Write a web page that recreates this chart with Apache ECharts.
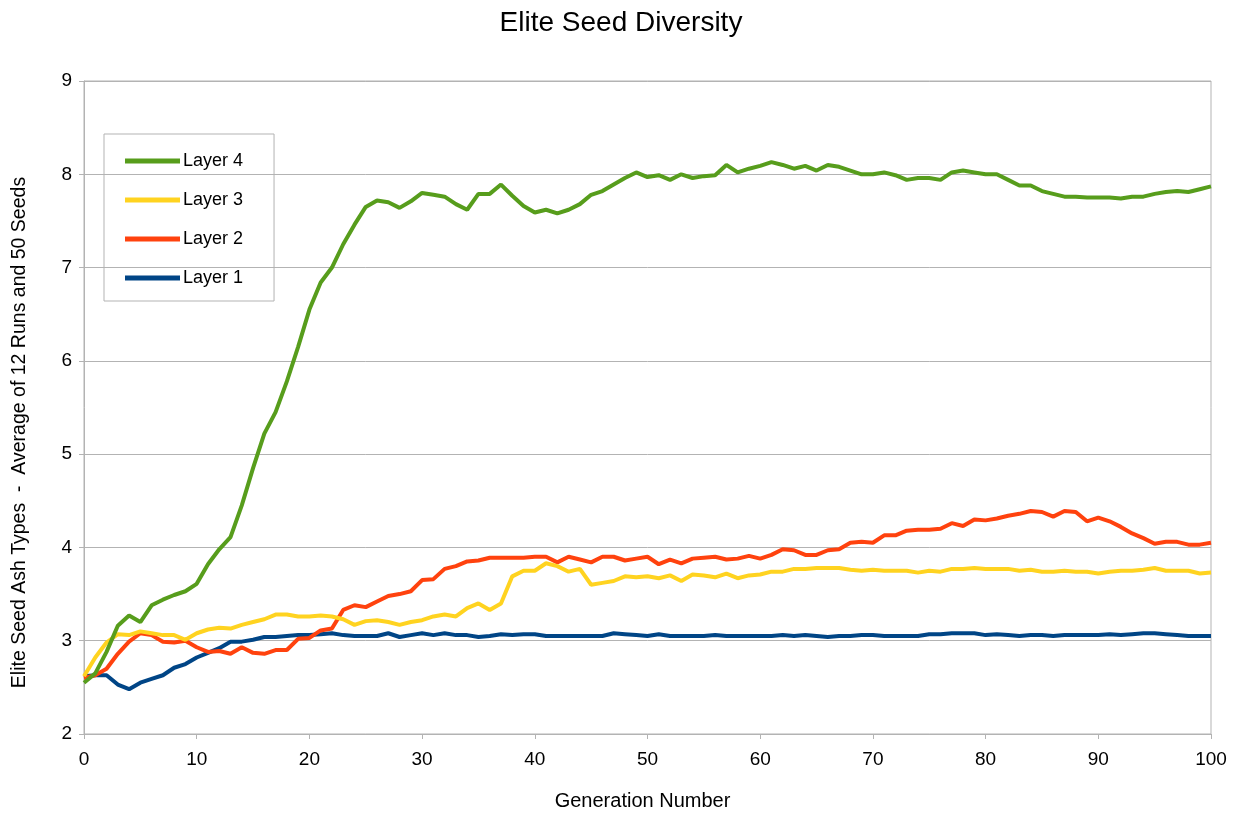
<!DOCTYPE html>
<html>
<head>
<meta charset="utf-8">
<script src="https://cdn.jsdelivr.net/npm/echarts@6/dist/echarts.min.js"></script>
<style>
  html, body { margin: 0; padding: 0; background: #fff; }
  #main { width: 1242px; height: 816px; }
</style>
</head>
<body>
<div id="main"></div>
<script>
// generations 0..100
var generations = [];
for (var g = 0; g <= 100; g++) generations.push(g);

var layer4 = [2.55, 2.65, 2.88, 3.16, 3.27, 3.2, 3.38, 3.44, 3.49, 3.53,
  3.61, 3.82, 3.98, 4.11, 4.45, 4.85, 5.22, 5.45, 5.78, 6.15,
  6.55, 6.84, 7.0, 7.25, 7.46, 7.65, 7.72, 7.7, 7.64, 7.71,
  7.8, 7.78, 7.76, 7.68, 7.62, 7.79, 7.79, 7.89, 7.77, 7.66,
  7.59, 7.62, 7.58, 7.62, 7.68, 7.78, 7.82, 7.89, 7.96, 8.02,
  7.97, 7.99, 7.94, 8.0, 7.96, 7.98, 7.99, 8.1, 8.02, 8.06,
  8.09, 8.13, 8.1, 8.06, 8.09, 8.04, 8.1, 8.08, 8.04, 8.0,
  8.0, 8.02, 7.99, 7.94, 7.96, 7.96, 7.94, 8.02, 8.04, 8.02,
  8.0, 8.0, 7.94, 7.88, 7.88, 7.82, 7.79, 7.76, 7.76, 7.75,
  7.75, 7.75, 7.74, 7.76, 7.76, 7.79, 7.81, 7.82, 7.81, 7.84,
  7.87];

var layer3 = [2.62, 2.82, 2.98, 3.07, 3.06, 3.1, 3.08, 3.06, 3.06, 3.01,
  3.08, 3.12, 3.14, 3.13, 3.17, 3.2, 3.23, 3.28, 3.28, 3.26,
  3.26, 3.27, 3.26, 3.23, 3.17, 3.21, 3.22, 3.2, 3.17, 3.2,
  3.22, 3.26, 3.28, 3.26, 3.35, 3.4, 3.33, 3.4, 3.69, 3.75,
  3.75, 3.83, 3.8, 3.74, 3.77, 3.6, 3.62, 3.64, 3.69, 3.68,
  3.69, 3.67, 3.7, 3.64, 3.71, 3.7, 3.68, 3.72, 3.67, 3.7,
  3.71, 3.74, 3.74, 3.77, 3.77, 3.78, 3.78, 3.78, 3.76, 3.75,
  3.76, 3.75, 3.75, 3.75, 3.73, 3.75, 3.74, 3.77, 3.77, 3.78,
  3.77, 3.77, 3.77, 3.75, 3.76, 3.74, 3.74, 3.75, 3.74, 3.74,
  3.72, 3.74, 3.75, 3.75, 3.76, 3.78, 3.75, 3.75, 3.75, 3.72,
  3.73];

var layer2 = [2.6, 2.63, 2.7, 2.86, 2.99, 3.08, 3.06, 2.99, 2.98, 3.0,
  2.93, 2.88, 2.89, 2.86, 2.93, 2.87, 2.86, 2.9, 2.9, 3.02,
  3.03, 3.11, 3.13, 3.33, 3.38, 3.36, 3.42, 3.48, 3.5, 3.53,
  3.65, 3.66, 3.77, 3.8, 3.85, 3.86, 3.89, 3.89, 3.89, 3.89,
  3.9, 3.9, 3.84, 3.9, 3.87, 3.84, 3.9, 3.9, 3.86, 3.88,
  3.9, 3.82, 3.87, 3.83, 3.88, 3.89, 3.9, 3.87, 3.88, 3.91,
  3.88, 3.92, 3.98, 3.97, 3.92, 3.92, 3.97, 3.98, 4.05, 4.06,
  4.05, 4.13, 4.13, 4.18, 4.19, 4.19, 4.2, 4.26, 4.23, 4.3,
  4.29, 4.31, 4.34, 4.36, 4.39, 4.38, 4.33, 4.39, 4.38, 4.28,
  4.32, 4.28, 4.22, 4.15, 4.1, 4.04, 4.06, 4.06, 4.03, 4.03,
  4.05];

var layer1 = [2.62, 2.63, 2.63, 2.53, 2.48, 2.55, 2.59, 2.63, 2.71, 2.75,
  2.82, 2.87, 2.92, 2.99, 2.99, 3.01, 3.04, 3.04, 3.05, 3.06,
  3.06, 3.07, 3.08, 3.06, 3.05, 3.05, 3.05, 3.08, 3.04, 3.06,
  3.08, 3.06, 3.08, 3.06, 3.06, 3.04, 3.05, 3.07, 3.06, 3.07,
  3.07, 3.05, 3.05, 3.05, 3.05, 3.05, 3.05, 3.08, 3.07, 3.06,
  3.05, 3.07, 3.05, 3.05, 3.05, 3.05, 3.06, 3.05, 3.05, 3.05,
  3.05, 3.05, 3.06, 3.05, 3.06, 3.05, 3.04, 3.05, 3.05, 3.06,
  3.06, 3.05, 3.05, 3.05, 3.05, 3.07, 3.07, 3.08, 3.08, 3.08,
  3.06, 3.07, 3.06, 3.05, 3.06, 3.06, 3.05, 3.06, 3.06, 3.06,
  3.06, 3.07, 3.06, 3.07, 3.08, 3.08, 3.07, 3.06, 3.05, 3.05,
  3.05];

function pairs(vals) {
  return vals.map(function (v, i) { return [generations[i], v]; });
}

var font = 'Liberation Sans, Arial, sans-serif';
var chart = echarts.init(document.getElementById('main'));

chart.setOption({
  animation: false,
  backgroundColor: '#fff',
  textStyle: { fontFamily: font, color: '#000' },
  title: {
    text: 'Elite Seed Diversity',
    left: 'center',
    top: 4,
    textStyle: { fontFamily: font, fontSize: 28, fontWeight: 'normal', color: '#000' }
  },
  legend: {
    orient: 'vertical',
    left: 104,
    top: 134,
    data: ['Layer 4', 'Layer 3', 'Layer 2', 'Layer 1'],
    icon: 'rect',
    itemWidth: 55,
    itemHeight: 5,
    itemGap: 21,
    padding: [18, 31, 14, 21],
    borderColor: '#b3b3b3',
    borderWidth: 1,
    textStyle: { fontFamily: font, fontSize: 18, color: '#000', padding: [0, 0, 0, -2] }
  },
  grid: {
    left: 84, right: 31, top: 81, bottom: 80,
    show: true, borderColor: '#b3b3b3', borderWidth: 1
  },
  xAxis: {
    type: 'value',
    min: 0, max: 100, interval: 10,
    name: 'Generation Number',
    nameLocation: 'middle',
    nameGap: 57,
    nameTextStyle: { fontFamily: font, fontSize: 20, color: '#000', padding: [0, 10, 0, 0] },
    axisLine: { lineStyle: { color: '#b3b3b3' } },
    axisTick: { show: true, length: 5, lineStyle: { color: '#b3b3b3' } },
    axisLabel: { fontFamily: font, fontSize: 19, color: '#000', margin: 16 },
    splitLine: { show: false }
  },
  yAxis: {
    type: 'value',
    min: 2, max: 9, interval: 1,
    name: 'Elite Seed Ash Types  -  Average of 12 Runs and 50 Seeds',
    nameLocation: 'middle',
    nameGap: 54,
    nameTextStyle: { fontFamily: font, fontSize: 19.5, color: '#000', padding: [0, 50, 0, 0] },
    axisLine: { show: true, lineStyle: { color: '#b3b3b3' } },
    axisTick: { show: true, length: 5, lineStyle: { color: '#b3b3b3' } },
    axisLabel: { fontFamily: font, fontSize: 19, color: '#000', margin: 12 },
    splitLine: { lineStyle: { color: '#b3b3b3', width: 1 } }
  },
  series: [
    { name: 'Layer 1', type: 'line', data: pairs(layer1), showSymbol: false, color: '#004586', lineStyle: { width: 4 } },
    { name: 'Layer 2', type: 'line', data: pairs(layer2), showSymbol: false, color: '#ff420e', lineStyle: { width: 4 } },
    { name: 'Layer 3', type: 'line', data: pairs(layer3), showSymbol: false, color: '#ffd320', lineStyle: { width: 4 } },
    { name: 'Layer 4', type: 'line', data: pairs(layer4), showSymbol: false, color: '#579d1c', lineStyle: { width: 4 } }
  ]
});
</script>
</body>
</html>
